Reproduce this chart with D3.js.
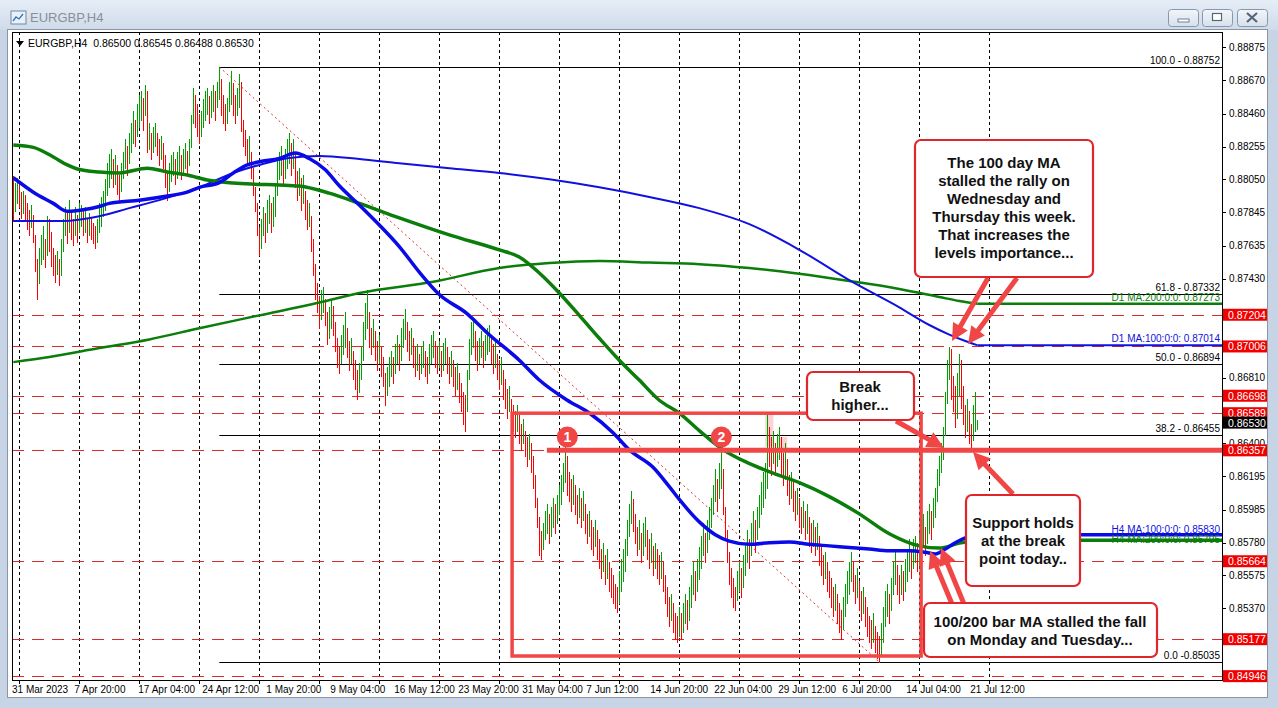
<!DOCTYPE html>
<html><head><meta charset="utf-8">
<script src="https://cdn.jsdelivr.net/npm/d3@7"></script>
<style>html,body{margin:0;padding:0;background:#c6d4e5;overflow:hidden}text{font-family:"Liberation Sans",Arial,sans-serif}</style>
</head><body>
<svg id="c" width="1278" height="708"></svg>
<script>
// ---------------- DATA ----------------
const symbolInfo = "EURGBP,H4  0.86500 0.86545 0.86488 0.86530";
const windowTitle = "EURGBP,H4";
// H4 bars: [low, high, up(1)/down(0)] in 1e-4 price units, bar 0 = 31 Mar 12:00
const bars = [
[8779,8807,0],[8785,8803,1],[8790,8806,1],[8788,8802,0],[8781,8797,0],[8784,8798,1],[8780,8795,0],[8774,8790,0],[8770,8786,0],[8775,8789,1],
[8766,8783,0],[8748,8770,0],[8730,8755,0],[8740,8762,1],[8752,8770,1],[8755,8776,1],[8750,8768,0],[8758,8782,1],[8760,8780,0],[8751,8772,0],
[8745,8762,0],[8741,8758,0],[8746,8760,1],[8739,8755,0],[8745,8768,1],[8760,8780,1],[8770,8788,1],[8765,8785,0],[8772,8792,1],[8768,8786,0],
[8764,8780,0],[8770,8788,1],[8766,8783,0],[8772,8790,1],[8776,8789,1],[8770,8786,0],[8772,8788,1],[8766,8780,0],[8770,8784,1],[8768,8781,0],
[8765,8778,0],[8762,8776,0],[8766,8780,1],[8772,8790,1],[8776,8794,1],[8782,8798,1],[8786,8805,1],[8795,8815,1],[8800,8821,1],[8806,8824,1],
[8800,8818,0],[8802,8820,1],[8796,8814,0],[8792,8808,0],[8798,8815,1],[8806,8822,1],[8812,8830,1],[8808,8826,0],[8815,8834,1],[8822,8840,1],
[8828,8848,1],[8826,8842,0],[8832,8852,1],[8838,8858,1],[8842,8860,1],[8836,8856,0],[8845,8864,1],[8822,8860,0],[8824,8840,1],[8818,8834,0],
[8822,8838,1],[8826,8840,1],[8820,8834,0],[8814,8830,0],[8818,8832,1],[8812,8828,0],[8800,8820,0],[8792,8810,0],[8798,8815,1],[8804,8820,1],
[8808,8822,1],[8802,8818,0],[8806,8822,1],[8810,8826,1],[8805,8820,0],[8808,8824,1],[8812,8828,1],[8808,8823,0],[8814,8830,1],[8825,8845,1],
[8840,8862,1],[8838,8858,0],[8832,8852,0],[8828,8846,0],[8832,8848,1],[8838,8855,1],[8842,8860,1],[8846,8862,1],[8840,8857,0],[8844,8860,1],
[8848,8864,1],[8842,8860,0],[8850,8866,1],[8855,8875.2,1],[8845,8868,0],[8840,8858,0],[8836,8852,0],[8840,8856,1],[8848,8866,1],[8852,8873,1],
[8845,8865,0],[8840,8858,0],[8845,8862,1],[8850,8871,1],[8835,8866,0],[8826,8842,0],[8820,8836,0],[8814,8830,0],[8816,8832,1],[8806,8822,0],
[8795,8812,0],[8785,8800,0],[8770,8790,0],[8758,8775,0],[8762,8780,1],[8770,8788,1],[8766,8784,0],[8772,8792,1],[8778,8795,1],[8772,8790,0],
[8776,8794,1],[8782,8802,1],[8795,8818,1],[8805,8822,1],[8808,8826,1],[8802,8820,0],[8806,8824,1],[8812,8830,1],[8815,8834,1],[8808,8828,0],
[8812,8830,1],[8800,8822,0],[8792,8810,0],[8795,8812,1],[8786,8806,0],[8790,8808,1],[8780,8798,0],[8774,8792,0],[8776,8790,1],[8760,8782,0],
[8745,8768,0],[8730,8752,0],[8722,8740,0],[8712,8732,0],[8718,8736,1],[8722,8738,1],[8714,8730,0],[8702,8722,0],[8706,8725,1],[8712,8730,1],
[8708,8726,0],[8698,8716,0],[8688,8706,0],[8684,8700,0],[8690,8708,1],[8696,8714,1],[8700,8722,1],[8694,8712,0],[8686,8704,0],[8690,8706,1],
[8680,8698,0],[8674,8692,0],[8668,8686,0],[8672,8690,1],[8680,8700,1],[8692,8716,1],[8705,8728,1],[8712,8736,1],[8700,8722,0],[8696,8712,0],
[8700,8718,1],[8692,8710,0],[8686,8704,0],[8690,8708,1],[8682,8700,0],[8676,8694,0],[8664,8684,0],[8670,8688,1],[8676,8694,1],[8682,8698,1],
[8678,8694,0],[8684,8702,1],[8690,8708,1],[8686,8702,0],[8692,8712,1],[8700,8718,1],[8705,8724,1],[8698,8716,0],[8692,8710,0],[8696,8712,1],
[8688,8706,0],[8682,8700,0],[8686,8702,1],[8680,8696,0],[8684,8700,1],[8688,8704,1],[8682,8698,0],[8678,8694,0],[8684,8702,1],[8690,8708,1],
[8694,8710,1],[8688,8704,0],[8684,8700,0],[8688,8704,1],[8682,8698,0],[8686,8703,1],[8690,8706,1],[8684,8700,0],[8678,8694,0],[8682,8698,1],
[8676,8692,0],[8670,8688,0],[8674,8690,1],[8666,8684,0],[8660,8678,0],[8652,8672,0],[8648,8670,0],[8660,8686,1],[8680,8705,1],[8696,8716,1],
[8700,8717,1],[8692,8710,0],[8686,8704,0],[8690,8706,1],[8694,8710,1],[8688,8704,0],[8692,8708,1],[8696,8712,1],[8698,8714,1],[8690,8708,0],
[8684,8702,0],[8688,8704,1],[8680,8696,0],[8674,8692,0],[8677,8694,1],[8668,8686,0],[8662,8680,0],[8656,8674,0],[8660,8676,1],[8652,8668,0],
[8648,8664,0],[8644,8660,0],[8648,8664,1],[8640,8658,0],[8636,8652,0],[8640,8655,1],[8632,8648,0],[8626,8644,0],[8630,8646,1],[8622,8640,0],
[8612,8632,0],[8600,8620,0],[8588,8606,0],[8570,8594,0],[8568,8585,0],[8574,8590,1],[8580,8598,1],[8584,8602,1],[8578,8596,0],[8582,8600,1],
[8588,8606,1],[8584,8602,0],[8590,8608,1],[8596,8614,1],[8602,8620,1],[8610,8628,1],[8616,8638,1],[8608,8632,0],[8604,8622,0],[8598,8618,0],
[8602,8620,1],[8596,8614,0],[8590,8608,0],[8594,8612,1],[8588,8606,0],[8592,8610,1],[8584,8602,0],[8578,8596,0],[8582,8598,1],[8574,8592,0],
[8570,8588,0],[8576,8592,1],[8568,8586,0],[8562,8580,0],[8556,8574,0],[8560,8578,1],[8552,8570,0],[8556,8574,1],[8548,8566,0],[8544,8562,0],
[8540,8558,0],[8537,8552,0],[8535,8550,0],[8540,8560,1],[8548,8568,1],[8554,8574,1],[8560,8580,1],[8570,8592,1],[8582,8602,1],[8590,8610,1],
[8585,8605,0],[8578,8596,0],[8570,8588,0],[8574,8592,1],[8566,8584,0],[8570,8590,1],[8576,8594,1],[8568,8586,0],[8562,8580,0],[8566,8584,1],
[8558,8576,0],[8562,8578,1],[8556,8574,0],[8552,8570,0],[8556,8572,1],[8548,8566,0],[8540,8558,0],[8532,8550,0],[8526,8544,0],[8530,8546,1],
[8522,8540,0],[8518,8534,0],[8516,8532,0],[8520,8538,1],[8518,8534,0],[8522,8540,1],[8528,8546,1],[8524,8542,0],[8530,8550,1],[8538,8558,1],
[8546,8566,1],[8542,8560,0],[8548,8568,1],[8555,8575,1],[8562,8582,1],[8570,8590,1],[8566,8584,0],[8572,8592,1],[8580,8600,1],[8588,8606,1],
[8596,8614,1],[8604,8624,1],[8598,8618,0],[8606,8628,1],[8612,8636,1],[8596,8624,0],[8580,8600,0],[8566,8586,0],[8552,8572,0],[8544,8562,0],
[8538,8556,0],[8536,8550,0],[8542,8560,1],[8548,8566,1],[8544,8562,0],[8550,8570,1],[8558,8578,1],[8566,8586,1],[8562,8580,0],[8570,8590,1],
[8578,8598,1],[8572,8592,0],[8580,8600,1],[8588,8608,1],[8596,8616,1],[8600,8622,1],[8606,8628,1],[8612,8659,1],[8626,8650,0],[8620,8644,0],
[8628,8648,1],[8620,8640,0],[8626,8646,1],[8630,8650,1],[8620,8644,0],[8614,8634,0],[8618,8640,1],[8608,8630,0],[8602,8620,0],[8606,8622,1],
[8598,8616,0],[8592,8610,0],[8596,8612,1],[8588,8606,0],[8584,8600,0],[8588,8604,1],[8580,8598,0],[8584,8602,1],[8576,8594,0],[8572,8590,0],
[8576,8592,1],[8570,8588,0],[8574,8590,1],[8564,8582,0],[8558,8576,0],[8552,8570,0],[8556,8572,1],[8548,8566,0],[8544,8560,0],[8538,8556,0],
[8532,8550,0],[8536,8552,1],[8528,8546,0],[8522,8540,0],[8518,8536,0],[8524,8544,1],[8532,8552,1],[8540,8560,1],[8546,8566,1],[8554,8572,1],
[8548,8566,0],[8540,8558,0],[8544,8562,1],[8536,8554,0],[8530,8548,0],[8534,8550,1],[8526,8544,0],[8520,8538,0],[8516,8532,0],[8512,8530,0],
[8516,8534,1],[8510,8526,0],[8506,8522,0],[8503.5,8520,0],[8508,8528,1],[8516,8538,1],[8526,8548,1],[8532,8552,1],[8528,8546,0],[8536,8556,1],
[8546,8566,1],[8552,8572,1],[8546,8564,0],[8540,8558,0],[8546,8564,1],[8542,8560,0],[8548,8568,1],[8554,8574,1],[8560,8580,1],[8556,8574,0],
[8562,8580,1],[8566,8582,1],[8560,8578,0],[8564,8584,1],[8570,8590,1],[8576,8596,1],[8570,8588,0],[8578,8598,1],[8584,8602,1],[8580,8598,0],
[8588,8606,1],[8594,8612,1],[8604,8624,1],[8614,8632,1],[8622,8640,1],[8630,8650,1],[8645,8672,1],[8665,8692,1],[8680,8700,1],[8668,8699,0],
[8660,8682,0],[8650,8676,0],[8656,8684,1],[8670,8696,1],[8662,8692,0],[8652,8676,0],[8644,8664,0],[8648,8668,1],[8640,8660,0],[8636,8652,0],
[8642,8664,1],[8648,8672,1],[8648.8,8654.5,1]
];
// moving averages [bar, value 1e-4]
const maH4_100 = [[0,8806],[10,8797],[20,8790],[27,8785],[35,8786],[43,8788],[48,8790],[63,8792],[77,8794.6],[87,8797],[93,8800],[103,8803],[110,8809],[117,8814],[123,8816],[133,8818],[141,8821.5],[148,8818],[156,8811],[163,8801],[173,8789],[183,8776.5],[193,8763],[203,8747],[213,8733],[227,8721],[237,8709],[253,8692],[263,8679.6],[277,8667],[288,8659],[300,8646.5],[308,8636],[320,8625],[328,8613],[333,8605],[343,8591],[351,8583],[358,8579],[368,8577],[378,8578],[388,8578.5],[398,8577],[408,8576],[418,8575],[428,8574],[438,8573],[448,8573],[456,8572],[461,8571],[466,8574],[471,8578],[476,8581],[482,8583]];
const maH4_200 = [[0,8826.5],[10,8825],[20,8819],[27,8814],[32,8811.5],[43,8809.6],[53,8809],[67,8812],[77,8809.6],[87,8807.7],[97,8804.6],[110,8802.7],[120,8802],[133,8801.5],[143,8800.8],[158,8796.4],[173,8790],[193,8780.9],[218,8770.3],[243,8760.9],[253,8756.5],[263,8746.5],[273,8734],[283,8720],[293,8705.7],[303,8692],[313,8679.6],[323,8667],[333,8659],[343,8648],[355,8636],[367,8628],[383,8620],[393,8615.5],[408,8606.8],[423,8596],[438,8583.6],[453,8576],[463,8574.6],[473,8577.7],[482,8579.5]];
const maD1_100 = [[0,8779],[25,8779],[43,8782],[58,8787],[73,8792],[93,8800],[110,8809],[123,8814],[138,8818.4],[153,8819.6],[173,8817.7],[193,8815],[218,8812],[243,8809],[268,8805],[293,8800],[318,8794],[343,8787],[368,8777],[393,8761],[418,8742],[443,8725],[458,8714],[468,8708],[476,8704],[482,8701.4]];
const maD1_200 = [[0,8690.8],[18,8694],[43,8699.6],[68,8705],[93,8712],[123,8720],[153,8728],[173,8734],[210,8741],[243,8749.6],[268,8752.7],[293,8754],[318,8753],[343,8752],[368,8749.6],[393,8746],[418,8741.5],[443,8736.5],[463,8731.5],[473,8729],[482,8727.3]];
const maLabels = ["D1 MA:200:0:0: 0.87273","D1 MA:100:0:0: 0.87014","H4 MA:100:0:0: 0.85830","H4 MA:200:0:0: 0.85795"];
// visible price-scale labels (those under the coloured level boxes are hidden in the reference)
const yTicks = [0.88875,0.88670,0.88460,0.88255,0.88050,0.87845,0.87635,0.87430,0.86810,0.86400,0.86195,0.85985,0.85780,0.85575,0.85370];
const timeLabels = ["31 Mar 2023","7 Apr 20:00","17 Apr 04:00","24 Apr 12:00","1 May 20:00","9 May 04:00","16 May 12:00","23 May 20:00","31 May 04:00","7 Jun 12:00","14 Jun 20:00","22 Jun 04:00","29 Jun 12:00","6 Jul 20:00","14 Jul 04:00","21 Jul 12:00"];
const timeLabelBars = [0,32,64,96,128,160,192,224,256,288,320,352,384,416,448,480];
const weekStartBars = [3,33,63,93,123,153,183,213,243,273,303,333,363,393,423,453,488];
const redLevels = [0.87204,0.87006,0.86698,0.86589,0.86357,0.85664,0.85177,0.84946];
const currentPrice = 0.86530;
const fibPrices = [0.88752,0.87332,0.86894,0.86455,0.85035];
const fibLabels = ["100.0 - 0.88752","61.8 - 0.87332","50.0 - 0.86894","38.2 - 0.86455","0.0 -0.85035"];
const fibHighBar = 103, fibLowBar = 433;
const breakLevel = 0.86357;
const notes = [
 {lines:["The 100 day MA","stalled the rally on","Wednesday and","Thursday this week.","That increases the","levels importance..."]},
 {lines:["Break","higher..."]},
 {lines:["Support holds","at the break","point today.."]},
 {lines:["100/200 bar MA stalled the fall","on Monday and Tuesday..."]}
];

// ---------------- LAYOUT ----------------
const W=1278,H=708;
const P={l:12,t:32,r:1222,b:680};
const x=d3.scaleLinear().domain([0,482]).range([13.3,977.3]);
const y=d3.scaleLinear().domain([0.85370,0.88875]).range([608.3,47.3]);
const pv=v=>v/1e4;
const svg=d3.select('#c');
const defs=svg.append('defs');
const tg=defs.append('linearGradient').attr('id','tg').attr('x1',0).attr('x2',0).attr('y1',0).attr('y2',1);
tg.append('stop').attr('offset',0).attr('stop-color','#e6edf6');
tg.append('stop').attr('offset',1).attr('stop-color','#cfdbea');
const bg=defs.append('linearGradient').attr('id','bg').attr('x1',0).attr('x2',0).attr('y1',0).attr('y2',1);
bg.append('stop').attr('offset',0).attr('stop-color','#f3f6fa');
bg.append('stop').attr('offset',1).attr('stop-color','#d6e0ec');
defs.append('clipPath').attr('id','clip').append('rect').attr('x',P.l+1).attr('y',P.t+1).attr('width',P.r-P.l-1).attr('height',P.b-P.t-1);

// window chrome
svg.append('rect').attr('width',W).attr('height',H).attr('fill','#c6d4e5');
svg.append('rect').attr('x',0).attr('y',0).attr('width',W).attr('height',30).attr('fill','url(#tg)');
const ic=svg.append('g').attr('transform','translate(11,11)');
ic.append('rect').attr('width',15).attr('height',13).attr('fill','#e8f0f8').attr('stroke','#6a88aa');
ic.append('path').attr('d','M2,10 L5,6 L8,8 L12,3').attr('stroke','#3a6fb0').attr('fill','none').attr('stroke-width',1.3);
svg.append('text').attr('x',30).attr('y',22).attr('font-size',13).attr('fill','#8a8f96').text(windowTitle);
[[1168,'min'],[1202,'max'],[1237,'close']].forEach(([bx,k])=>{
  svg.append('rect').attr('x',bx+0.5).attr('y',9.5).attr('width',30).attr('height',17).attr('rx',3).attr('fill','url(#bg)').attr('stroke','#8797ad');
  if(k==='min') svg.append('rect').attr('x',bx+10).attr('y',19).attr('width',11).attr('height',3).attr('fill','#fff').attr('stroke','#55657a').attr('stroke-width',0.8);
  if(k==='max') svg.append('rect').attr('x',bx+10.5).attr('y',13.5).attr('width',9).attr('height',7).attr('fill','#fff').attr('stroke','#55657a').attr('stroke-width',1.2);
  if(k==='close') svg.append('path').attr('d',`M${bx+10},13 L${bx+20},22 M${bx+20},13 L${bx+10},22`).attr('stroke','#55657a').attr('stroke-width',2.2);
});
svg.append('rect').attr('x',7.5).attr('y',29.5).attr('width',1260).attr('height',668).attr('fill','#fff').attr('stroke','#8a96a6');

const plot=svg.append('g').attr('clip-path','url(#clip)');

// weekly grid
plot.selectAll('.grid').data(weekStartBars).enter().append('line')
 .attr('x1',d=>Math.round(x(d))+0.5).attr('x2',d=>Math.round(x(d))+0.5).attr('y1',P.t).attr('y2',P.b)
 .attr('stroke','#000').attr('stroke-dasharray','3,3');

// horizontal red dashed levels
plot.selectAll('.lvl').data(redLevels).enter().append('line')
 .attr('x1',P.l).attr('x2',P.r).attr('y1',d=>Math.round(y(d))+0.5).attr('y2',d=>Math.round(y(d))+0.5)
 .attr('stroke','#d92b2b').attr('stroke-dasharray','12,8');

// fib lines
plot.selectAll('.fib').data(fibPrices).enter().append('line')
 .attr('x1',x(fibHighBar)).attr('x2',P.r).attr('y1',d=>Math.round(y(d))+0.5).attr('y2',d=>Math.round(y(d))+0.5)
 .attr('stroke','#000');
plot.append('line').attr('x1',x(fibHighBar)).attr('y1',y(fibPrices[0])).attr('x2',x(fibLowBar)).attr('y2',y(fibPrices[4]))
 .attr('stroke','#e03030').attr('stroke-dasharray','2,3');
svg.selectAll('.fibt').data(fibLabels).enter().append('text')
 .attr('x',P.r-2).attr('y',(d,i)=>y(fibPrices[i])-3).attr('text-anchor','end').attr('font-size',10).attr('fill','#000').text(d=>d);

// pink highlight boxes
plot.append('rect').attr('x',x(376)).attr('y',y(0.86589)).attr('width',x(380)-x(376)).attr('height',y(0.86380)-y(0.86589)).attr('fill','rgba(240,110,110,0.3)');
plot.append('rect').attr('x',x(382)).attr('y',y(0.86440)).attr('width',x(387)-x(382)).attr('height',y(0.86357)-y(0.86440)).attr('fill','rgba(240,110,110,0.3)');

// bars
plot.selectAll('.bar').data(bars).enter().append('line')
 .attr('x1',(d,i)=>Math.round(x(i))+0.5).attr('x2',(d,i)=>Math.round(x(i))+0.5)
 .attr('y1',d=>Math.round(y(pv(d[1])))).attr('y2',d=>Math.round(y(pv(d[0])))+1)
 .attr('stroke',d=>d[2]?'#00a000':'#ff0000').attr('stroke-width',1).attr('shape-rendering','crispEdges');

// MAs
const mk=(data,c,w)=>{
  plot.append('path').datum(data).attr('d',d3.line().x(d=>x(d[0])).y(d=>y(pv(d[1]))).curve(d3.curveMonotoneX))
   .attr('fill','none').attr('stroke',c).attr('stroke-width',w).attr('stroke-linejoin','round');
  const last=data[data.length-1];
  plot.append('line').attr('x1',x(last[0])).attr('x2',P.r).attr('y1',y(pv(last[1]))).attr('y2',y(pv(last[1]))).attr('stroke',c).attr('stroke-width',w);
};
mk(maD1_200,'#0b7d0b',2.5);
mk(maD1_100,'#1010e0',2);
mk(maH4_200,'#0b7d0b',3.5);
mk(maH4_100,'#0a0ae8',3.5);
const maSets=[[maD1_200,'#0b7d0b',-3],[maD1_100,'#1010e0',-3],[maH4_100,'#1010e0',-2],[maH4_200,'#0b7d0b',3]];
maSets.forEach((m,i)=>{
  const last=m[0][m[0].length-1];
  svg.append('text').attr('x',P.r-2).attr('y',y(pv(last[1]))+m[2]).attr('text-anchor','end').attr('font-size',10).attr('fill',m[1]).text(maLabels[i]);
});

// break level, box, markers
const red='#f04646';
plot.append('line').attr('x1',x(266.8)).attr('x2',P.r).attr('y1',y(breakLevel)).attr('y2',y(breakLevel)).attr('stroke',red).attr('stroke-width',5);
plot.append('rect').attr('x',x(249.4)).attr('y',y(0.86589)).attr('width',x(453.9)-x(249.4)).attr('height',y(0.85072)-y(0.86589))
 .attr('fill','none').attr('stroke',red).attr('stroke-width',3.5);
[[277,'1'],[354,'2']].forEach(([b,t])=>{
  plot.append('circle').attr('cx',x(b)).attr('cy',y(0.86440)).attr('r',10.5).attr('fill',red);
  plot.append('text').attr('x',x(b)).attr('y',y(0.86440)+5).attr('text-anchor','middle').attr('font-size',14).attr('font-weight','bold').attr('fill','#fff').text(t);
});

// arrows
function arrow(x1,y1,x2,y2){
  const dx=x2-x1,dy=y2-y1,L=Math.hypot(dx,dy),ux=dx/L,uy=dy/L,px=-uy,py=ux;
  const hl=17,hw=8.5;
  const bx=x2-ux*hl,by=y2-uy*hl;
  svg.append('line').attr('x1',x1).attr('y1',y1).attr('x2',bx+ux*2).attr('y2',by+uy*2).attr('stroke',red).attr('stroke-width',5);
  svg.append('path').attr('d',`M${x2},${y2} L${bx+px*hw},${by+py*hw} L${bx-px*hw},${by-py*hw} Z`).attr('fill',red);
}
arrow(988,278,952,341);
arrow(1017,278,968,344);
arrow(896,421,944,448);
arrow(1013,494,973,452);
arrow(952,604,930,551);
arrow(964,604,941,548);

// note boxes
const boxes=[[915,140,178,137,1004,163],[807,372,107,48,860,387],[966,495,114,91,1023,523],[924,603,233,54,1040,622]];
boxes.forEach((b,i)=>{
  svg.append('rect').attr('x',b[0]).attr('y',b[1]).attr('width',b[2]).attr('height',b[3]).attr('rx',6)
   .attr('fill','#fff').attr('stroke','#e0262a').attr('stroke-width',2.2);
  notes[i].lines.forEach((t,j)=>{
    svg.append('text').attr('x',b[4]).attr('y',b[5]+5+j*18).attr('text-anchor','middle')
     .attr('font-size',15).attr('font-weight','bold').attr('fill','#111').text(t);
  });
});

// plot border
svg.append('rect').attr('x',P.l+0.5).attr('y',P.t+0.5).attr('width',P.r-P.l).attr('height',P.b-P.t).attr('fill','none').attr('stroke','#000');

// top-left info
svg.append('path').attr('d','M16,41 L24,41 L20,46 Z').attr('fill','#000');
svg.append('text').attr('x',28).attr('y',47).attr('font-size',10.5).attr('fill','#000').style('white-space','pre').text(symbolInfo);

// right axis
svg.selectAll('.yt').data(yTicks).enter().append('line').attr('x1',P.r).attr('x2',P.r+4)
 .attr('y1',d=>Math.round(y(d))+0.5).attr('y2',d=>Math.round(y(d))+0.5).attr('stroke','#000');
svg.selectAll('.ytl').data(yTicks).enter().append('text').attr('x',P.r+7).attr('y',d=>y(d)+3.5)
 .attr('font-size',10).attr('fill','#000').text(d=>d.toFixed(5));
redLevels.concat([currentPrice]).forEach(v=>{
  const cur=v===currentPrice;
  svg.append('rect').attr('x',P.r+1).attr('y',y(v)-6).attr('width',44).attr('height',12).attr('fill',cur?'#000':'#f20000');
  svg.append('text').attr('x',P.r+6).attr('y',y(v)+4).attr('font-size',10.5).attr('fill','#fff').text(v.toFixed(5));
});

// bottom axis
svg.selectAll('.xt').data(weekStartBars).enter().append('line').attr('x1',d=>Math.round(x(d))+0.5).attr('x2',d=>Math.round(x(d))+0.5)
 .attr('y1',P.b).attr('y2',P.b+4).attr('stroke','#000');
svg.selectAll('.xtl').data(timeLabels).enter().append('text').attr('x',(d,i)=>Math.max(12,x(timeLabelBars[i])-3)).attr('y',693)
 .attr('font-size',10).attr('fill','#000').text(d=>d);
</script></body></html>
